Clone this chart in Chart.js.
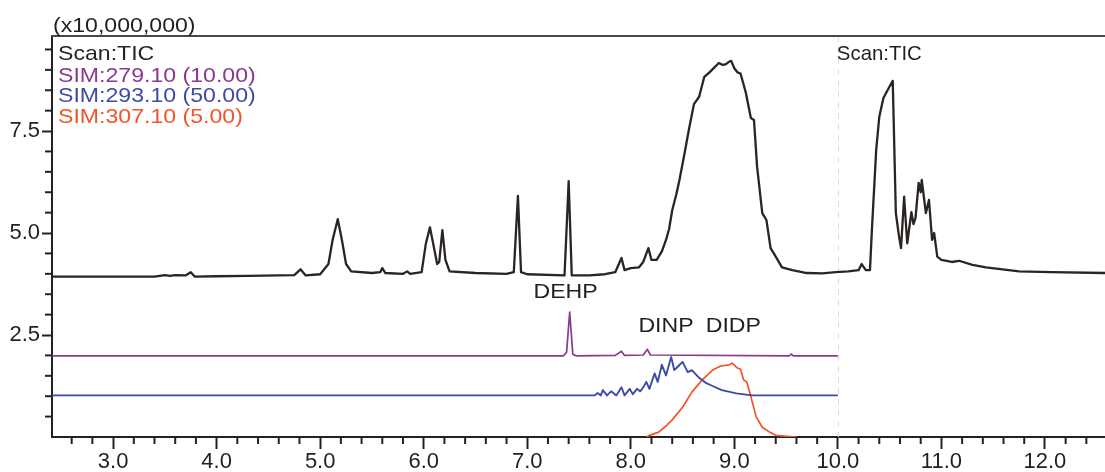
<!DOCTYPE html>
<html><head><meta charset="utf-8">
<script src="https://cdn.jsdelivr.net/npm/chart.js@4.4.1/dist/chart.umd.min.js"></script>
<style>html,body{margin:0;padding:0;background:#fff}canvas{display:block}</style>
</head><body>
<canvas id="c" width="1105" height="472"></canvas>
<script>
// ---- Data (retention time, min / intensity x10,000,000) ----
const ticX = [2.41,3.40,3.45,3.50,3.55,3.60,3.70,3.75,3.79,4.00,4.30,4.60,4.75,4.81,4.86,5.00,5.08,5.12,5.17,5.21,5.25,5.30,5.50,5.58,5.60,5.63,5.80,5.84,5.87,5.98,6.02,6.06,6.10,6.13,6.15,6.18,6.21,6.25,6.50,6.80,6.87,6.91,6.94,7.00,7.36,7.40,7.43,7.60,7.75,7.85,7.91,7.94,8.00,8.08,8.12,8.17,8.20,8.25,8.30,8.34,8.37,8.40,8.44,8.47,8.52,8.56,8.61,8.66,8.71,8.76,8.82,8.85,8.89,8.92,8.95,8.97,9.00,9.03,9.06,9.11,9.16,9.19,9.22,9.27,9.31,9.35,9.40,9.46,9.56,9.70,9.85,9.98,10.10,10.20,10.23,10.27,10.31,10.33,10.37,10.40,10.44,10.49,10.53,10.56,10.59,10.61,10.64,10.67,10.71,10.73,10.75,10.78,10.80,10.81,10.85,10.88,10.91,10.93,10.96,11.00,11.10,11.17,11.30,11.43,11.75,12.06,12.58];
const ticY = [3.93,3.93,3.95,3.97,3.95,3.97,3.96,4.04,3.93,3.94,3.95,3.96,3.97,4.11,3.96,3.99,4.24,4.83,5.34,4.83,4.24,4.06,4.02,4.04,4.14,4.02,4.00,4.06,4.00,4.04,4.73,5.14,4.63,4.24,4.29,5.07,4.34,4.06,4.02,4.00,4.04,5.91,4.04,3.99,3.96,6.27,3.96,3.96,3.99,4.04,4.39,4.09,4.14,4.16,4.29,4.63,4.34,4.34,4.55,4.83,5.10,5.56,5.95,6.30,6.96,7.52,8.16,8.34,8.83,8.94,9.09,9.17,9.12,9.14,9.20,9.22,9.04,8.94,8.91,8.45,7.82,7.77,6.62,5.49,5.32,4.63,4.42,4.16,4.09,4.02,4.01,4.04,4.06,4.09,4.24,4.09,4.09,5.14,7.03,7.85,8.31,8.55,8.73,5.49,4.93,4.63,5.89,4.75,5.51,5.22,5.37,6.23,6.00,6.30,5.49,5.81,4.83,5.00,4.42,4.34,4.29,4.32,4.22,4.16,4.06,4.04,4.02];

const sim279X = [2.41,7.35,7.38,7.41,7.44,7.47,7.85,7.91,7.94,8.12,8.16,8.19,9.53,9.55,9.57,10.00];
const sim279Y = [1.99,1.99,2.08,3.06,2.03,1.99,2.00,2.10,2.00,2.01,2.15,2.01,1.99,2.03,1.99,1.99];

const sim293X = [2.41,7.65,7.68,7.71,7.73,7.77,7.81,7.86,7.91,7.94,7.99,8.02,8.06,8.09,8.11,8.15,8.18,8.23,8.26,8.30,8.34,8.39,8.42,8.46,8.50,8.55,8.59,8.66,8.73,8.79,8.88,9.02,9.17,10.00];
const sim293Y = [1.02,1.02,1.08,1.02,1.15,1.02,1.12,1.02,1.22,1.02,1.18,1.05,1.18,1.12,1.18,1.35,1.18,1.56,1.35,1.77,1.51,1.96,1.64,1.74,1.84,1.59,1.64,1.45,1.32,1.25,1.15,1.07,1.02,1.02];

const sim307X = [8.15,8.18,8.27,8.34,8.40,8.50,8.59,8.69,8.79,8.87,8.95,8.98,9.03,9.06,9.09,9.12,9.16,9.21,9.27,9.34,9.40,9.60];
const sim307Y = [0.00,0.04,0.12,0.27,0.42,0.73,1.10,1.40,1.64,1.74,1.77,1.81,1.69,1.66,1.40,1.35,0.99,0.50,0.24,0.12,0.04,0.00];

const seriesNames = ['Scan:TIC','SIM:279.10 (10.00)','SIM:293.10 (50.00)','SIM:307.10 (5.00)'];
const xMajorValues = [3,4,5,6,7,8,9,10,11,12];
const xTickLabels = ['3.0','4.0','5.0','6.0','7.0','8.0','9.0','10.0','11.0','12.0'];
const yMajorValues = [2.5,5,7.5];
const yTickLabels = ['2.5','5.0','7.5'];
const peakNames = ['DEHP','DINP','DIDP'];
const peakTimes = [7.37,8.34,8.99];
const peakLevels = [3.41,2.57,2.57];
const yUnitLabel = '(x10,000,000)';
const segmentTime = 10.0;

// ---- Styles ----
const FONT = '"Liberation Sans", Arial, sans-serif';
const colors = ['#2a2422','#8a3a8d','#3f4aa8','#f0552a'];
const widths = [2.3,1.7,1.9,1.7];

const pts = (xs, ys) => xs.map((x, i) => ({x, y: ys[i]}));
const isMaj = (v, list) => list.findIndex(m => Math.abs(m - v) < 1e-6);

function sText(ctx, txt, x, y, size, sx, color) {
  ctx.save();
  ctx.font = size + 'px ' + FONT;
  ctx.fillStyle = color;
  ctx.textBaseline = 'alphabetic';
  ctx.translate(x, y);
  ctx.scale(sx, 1);
  ctx.fillText(txt, 0, 0);
  ctx.restore();
}

const deco = {
  id: 'deco',
  beforeDatasetsDraw(chart) {
    const {ctx, chartArea: a, scales: {x}} = chart;
    const px = Math.round(x.getPixelForValue(segmentTime)) + 0.5;
    ctx.save();
    ctx.strokeStyle = '#e2dcc6';
    ctx.lineWidth = 1;
    ctx.setLineDash([6, 5]);
    ctx.beginPath(); ctx.moveTo(px, a.top); ctx.lineTo(px, a.bottom); ctx.stroke();
    ctx.restore();
  },
  afterDraw(chart) {
    const {ctx, chartArea: a, scales: {x, y}} = chart;
    ctx.save();
    ctx.strokeStyle = '#4a4646';
    ctx.lineWidth = 2;
    ctx.beginPath(); ctx.moveTo(a.left - 1, a.top); ctx.lineTo(a.right, a.top); ctx.stroke();
    ctx.strokeStyle = '#222';
    ctx.lineWidth = 2;
    x.ticks.forEach(t => {
      if (isMaj(t.value, xMajorValues) >= 0) return;
      const p = x.getPixelForValue(t.value);
      ctx.beginPath(); ctx.moveTo(p, a.bottom); ctx.lineTo(p, a.bottom + 7); ctx.stroke();
    });
    y.ticks.forEach(t => {
      if (isMaj(t.value, yMajorValues) >= 0 || Math.abs(t.value) < 1e-6) return;
      const p = y.getPixelForValue(t.value);
      ctx.beginPath(); ctx.moveTo(a.left, p); ctx.lineTo(a.left - 7, p); ctx.stroke();
    });
    ctx.restore();
    sText(ctx, yUnitLabel, a.left + 1, 32, 21, 1.1, '#231f20');
    const base = [60, 82, 102, 123];
    seriesNames.forEach((n, i) => sText(ctx, n, a.left + 6, base[i], 21, 1.1, colors[i]));
    sText(ctx, seriesNames[0], x.getPixelForValue(segmentTime) - 1, 60, 21, 0.97, '#231f20');
    peakNames.forEach((n, i) => {
      ctx.save();
      ctx.font = '21px ' + FONT;
      const w = ctx.measureText(n).width * 1.1;
      ctx.restore();
      sText(ctx, n, x.getPixelForValue(peakTimes[i]) - w / 2, y.getPixelForValue(peakLevels[i]), 21, 1.1, '#231f20');
    });
  }
};

new Chart(document.getElementById('c'), {
  type: 'line',
  data: {
    datasets: [
      {label: seriesNames[0], data: pts(ticX, ticY)},
      {label: seriesNames[1], data: pts(sim279X, sim279Y)},
      {label: seriesNames[2], data: pts(sim293X, sim293Y)},
      {label: seriesNames[3], data: pts(sim307X, sim307Y)}
    ].map((d, i) => Object.assign(d, {
      borderColor: colors[i], borderWidth: widths[i], pointRadius: 0,
      tension: 0, fill: false, borderJoinStyle: 'round'
    }))
  },
  options: {
    responsive: false,
    animation: false,
    events: [],
    layout: {padding: {top: 36, left: 0, right: 0, bottom: 0}},
    plugins: {legend: {display: false}, tooltip: {enabled: false}, title: {display: false}},
    scales: {
      x: {
        type: 'linear', min: 2.41, max: 12.58,
        afterFit: s => { s.height = 35; },
        ticks: {
          stepSize: 0.2, autoSkip: false, includeBounds: false, maxRotation: 0,
          padding: 0, color: '#231f20', font: {family: FONT, size: 22},
          callback: v => { const i = isMaj(v, xMajorValues); return i >= 0 ? xTickLabels[i] : ''; }
        },
        grid: {
          drawOnChartArea: false, drawTicks: true, tickLength: 12, tickWidth: 2,
          tickColor: c => (c.tick && isMaj(c.tick.value, xMajorValues) >= 0) ? '#222' : 'rgba(0,0,0,0)'
        },
        border: {display: true, color: '#222', width: 2}
      },
      y: {
        type: 'linear', min: 0, max: 9.83,
        afterFit: s => { s.width = 52; },
        ticks: {
          stepSize: 0.5, autoSkip: false, includeBounds: false,
          padding: 2, color: '#231f20', font: {family: FONT, size: 22},
          callback: v => { const i = isMaj(v, yMajorValues); return i >= 0 ? yTickLabels[i] : ''; }
        },
        grid: {
          drawOnChartArea: false, drawTicks: true, tickLength: 10, tickWidth: 2,
          tickColor: c => (c.tick && isMaj(c.tick.value, yMajorValues) >= 0) ? '#222' : 'rgba(0,0,0,0)'
        },
        border: {display: true, color: '#222', width: 2}
      }
    }
  },
  plugins: [deco]
});
</script>
</body></html>
